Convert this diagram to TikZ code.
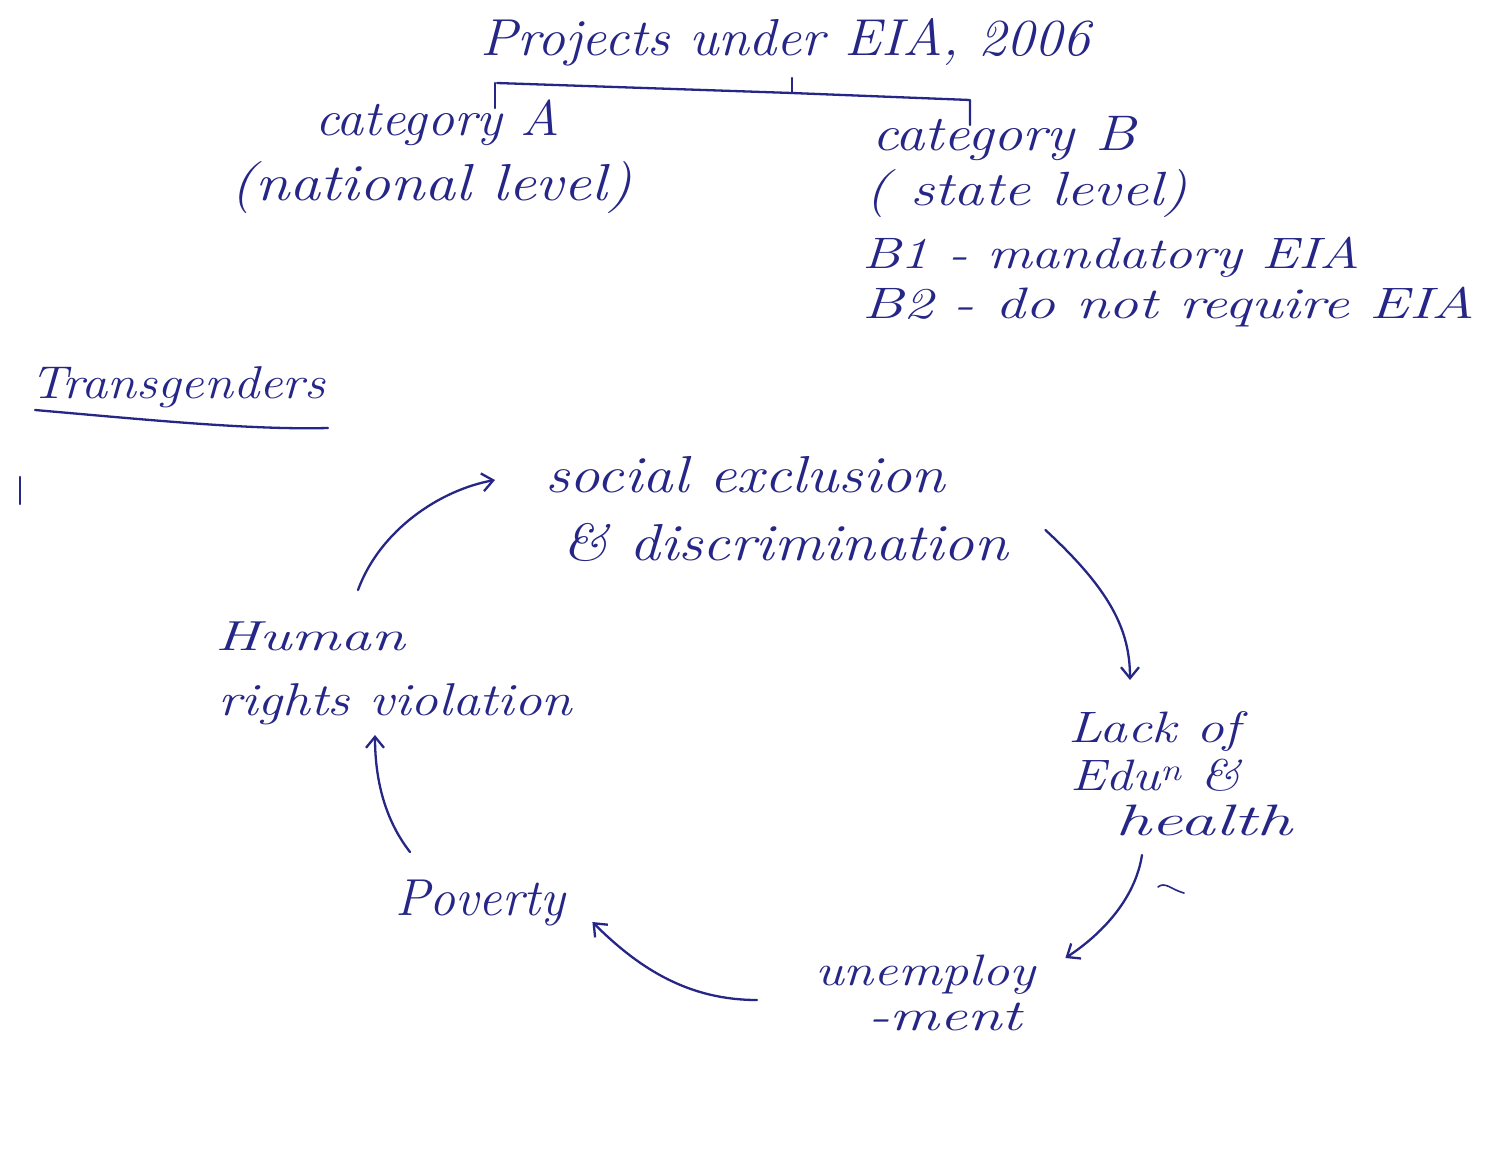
\documentclass[tikz,border=0pt]{standalone}
\usepackage{graphicx}
\usetikzlibrary{arrows.meta,calc}
\definecolor{ink}{RGB}{38,38,135}
\newcommand{\hw}[2]{\resizebox{#1pt}{\height}{#2}}
\begin{document}
\begin{tikzpicture}[x=1pt,y=-1pt,
  txt/.style={anchor=base west,inner sep=0pt,text=ink,font=\fontsize{#1}{#1}\selectfont\itshape},
  txt/.default=44,
  inkline/.style={draw=ink,line width=2.3pt,line cap=round,line join=round},
  arr/.style={inkline,-{Straight Barb[length=11pt,width=18pt,line width=2.3pt]}}]
\useasboundingbox[fill=white] (0,0) rectangle (1500,1173);
% header
\node[txt=52] (title) at (480,55) {\hw{610}{Projects under EIA, 2006}};
\node[txt=50] (catA) at (315,135) {\hw{245}{category A}};
\node[txt=52] (natl) at (230,200) {\hw{402}{(national level)}};
\node[txt=50] (catB) at (872,150) {\hw{263}{category B}};
\node[txt=48] (state) at (865,205) {\hw{322}{( state level)}};
\node[txt=44] (bone) at (862,268) {\hw{498}{B1 - mandatory EIA}};
\node[txt=44] (btwo) at (862,318) {\hw{613}{B2 - do not require EIA}};
% bracket
\coordinate (bl) at (495,108);
\coordinate (bltop) at (497,83);
\coordinate (bm) at (792,93);
\coordinate (bmtop) at (792,78);
\coordinate (brtop) at (970,100);
\coordinate (br) at (970,125);
\draw[inkline] (bl) -- (495,83);
\draw[inkline] (bltop) -- (bm) -- (brtop) -- (br);
\draw[inkline] (bmtop) -- (bm);
% transgenders
\node[txt=46] (trans) at (30,398) {\hw{295}{Transgenders}};
\draw[inkline] (35,410) .. controls (150,420) and (250,430) .. (328,428);
\draw[inkline] (20,477) -- (20,504);
% cycle
\node[txt=52] (social) at (545,492) {\hw{400}{social exclusion}};
\node[txt=52] (disc) at (562,560) {\hw{446}{\& discrimination}};
\node[txt=44] (lack) at (1068,742) {\hw{172}{Lack of}};
\node[txt=44] (edu) at (1070,790) {\hw{170}{Edu\textsuperscript{n} \&}};
\node[txt=44] (health) at (1115,835) {\hw{177}{health}};
\node[txt=44] (unemp) at (815,985) {\hw{220}{unemploy}};
\node[txt=44] (ment) at (868,1030) {\hw{154}{-ment}};
\node[txt=52] (pov) at (395,915) {\hw{170}{Poverty}};
\node[txt=42] (human) at (215,650) {\hw{190}{Human}};
\node[txt=46] (rights) at (218,715) {\hw{354}{rights violation}};
% arrows
\draw[arr] ($(disc.base east)+(37,-30)$) .. controls +(65,60) and +(0,-50) .. ($(lack.base west)+(62,-62)$);
\draw[arr] ($(health.base west)+(27,20)$) .. controls +(-7,45) and +(35,-23) .. ($(unemp.base east)+(30,-27)$);
\draw[arr] ($(unemp.base west)+(-58,15)$) .. controls +(-67,0) and +(48,48) .. ($(pov.base east)+(27,7)$);
\draw[arr] ($(pov.base west)+(15,-63)$) .. controls +(-25,-32) and +(0,45) .. ($(rights.base west)+(157,20)$);
\draw[arr] ($(human.base west)+(143,-60)$) .. controls +(22,-60) and +(-55,10) .. ($(social.base west)+(-50,-12)$);
\draw[inkline,line width=1.6pt] (1158,887) .. controls (1165,881) and (1172,890) .. (1184,893);
\end{tikzpicture}
\end{document}
